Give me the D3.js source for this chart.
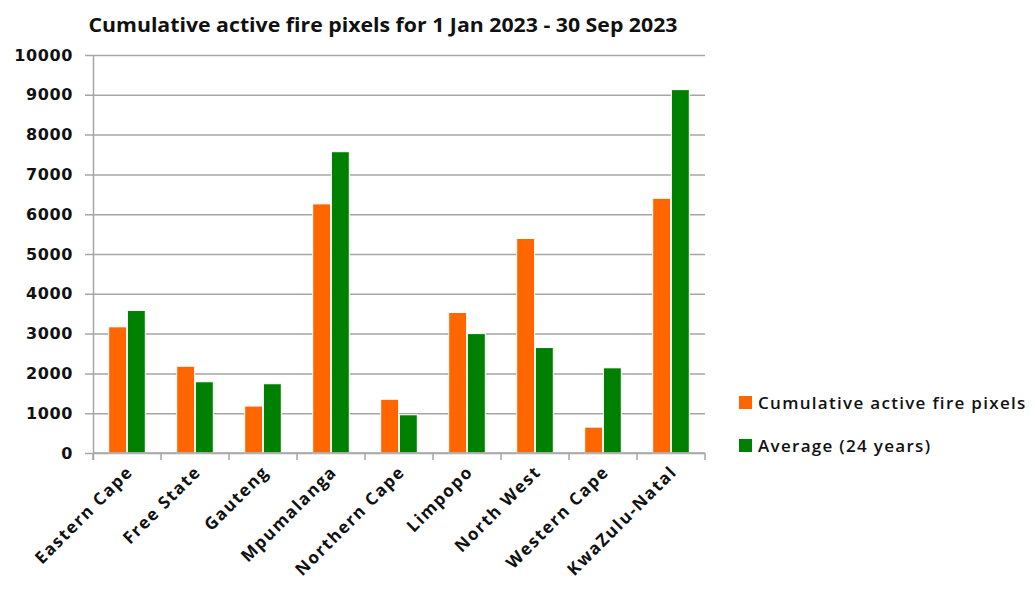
<!DOCTYPE html>
<html>
<head>
<meta charset="utf-8">
<script src="https://cdn.jsdelivr.net/npm/d3@7"></script>
<style>
  body { margin: 0; background: #fff; }
  svg { display: block; }
</style>
</head>
<body>
<svg id="chart"></svg>
<script>
const provinces = ["Eastern Cape", "Free State", "Gauteng", "Mpumalanga", "Northern Cape",
    "Limpopo", "North West", "Western Cape", "KwaZulu-Natal"];
const cumulative = [3170, 2180, 1180, 6260, 1350, 3530, 5390, 650, 6400];
const average24 = [3580, 1790, 1740, 7570, 960, 3000, 2650, 2140, 9130];
const seriesNames = ["Cumulative active fire pixels", "Average (24 years)"];
const seriesColors = ["#ff6600", "#008000"];
const yTicks = [0, 1000, 2000, 3000, 4000, 5000, 6000, 7000, 8000, 9000, 10000];

const width = 1034, height = 597;
const margin = { top: 55, right: 329, bottom: 144, left: 93 };
const innerW = width - margin.left - margin.right;
const innerH = height - margin.top - margin.bottom;

const rows = provinces.map((p, i) => ({ name: p, values: [cumulative[i], average24[i]] }));

const svg = d3.select("#chart").attr("width", width).attr("height", height);
const g = svg.append("g").attr("transform", `translate(${margin.left},${margin.top})`);

const x0 = d3.scaleBand().domain(provinces).range([0, innerW])
    .paddingInner(0.44).paddingOuter(0.22);
const x1 = d3.scaleBand().domain([0, 1]).range([0, x0.bandwidth()]).padding(0.04);
const y = d3.scaleLinear().domain([0, 10000]).range([innerH, 0]);

// gridlines with short ticks on the left
const yAxis = d3.axisLeft(y).tickValues(yTicks).tickFormat(d3.format("d"))
    .tickSize(-innerW - 8).tickSizeOuter(0).tickPadding(20);
const yg = g.append("g").call(yAxis);
yg.selectAll(".tick line").attr("x1", -8).attr("x2", innerW)
    .attr("stroke", "#a6a6a6").attr("stroke-width", 1.5);
yg.select(".domain").attr("d", `M0.5,0V${innerH + 7}`).attr("stroke", "#a6a6a6").attr("stroke-width", 1.5);
yg.selectAll(".tick text")
    .style("font-family", "DejaVu Sans").style("font-weight", "bold")
    .style("font-size", "16px").style("letter-spacing", "0.6px").attr("fill", "#111");

// bars
const groups = g.selectAll(".grp").data(rows).join("g")
    .attr("transform", d => `translate(${x0(d.name)},0)`);
groups.selectAll("rect").data(d => d.values.map((v, k) => ({ k, v }))).join("rect")
    .attr("x", d => x1(d.k))
    .attr("width", x1.bandwidth())
    .attr("y", d => y(d.v))
    .attr("height", d => innerH - y(d.v))
    .attr("fill", d => seriesColors[d.k])
    .attr("stroke", "#ffffff").attr("stroke-width", 1);

// x axis with boundary ticks
const xb = g.append("g").attr("transform", `translate(0,${innerH})`);
xb.append("line").attr("x1", 0).attr("x2", innerW).attr("stroke", "#a6a6a6").attr("stroke-width", 1.5);
xb.selectAll(".bt").data(d3.range(provinces.length + 1)).join("line")
    .attr("x1", i => i * x0.step()).attr("x2", i => i * x0.step())
    .attr("y1", 0).attr("y2", 7).attr("stroke", "#a6a6a6").attr("stroke-width", 1.5);
xb.selectAll(".lbl").data(provinces).join("text")
    .attr("transform", d => `translate(${x0(d) + x0.bandwidth() / 2 + 7},${20}) rotate(-45)`)
    .attr("text-anchor", "end")
    .style("font-family", "Open Sans").style("font-weight", "bold").style("font-size", "17px")
    .style("letter-spacing", "1.6px")
    .attr("fill", "#111")
    .text(d => d);

// title
svg.append("text")
    .attr("x", 383).attr("y", 32)
    .attr("text-anchor", "middle")
    .attr("textLength", 589).attr("lengthAdjust", "spacingAndGlyphs")
    .style("font-family", "Open Sans").style("font-weight", "bold").style("font-size", "19px")
    .attr("fill", "#111")
    .text("Cumulative active fire pixels for 1 Jan 2023  - 30 Sep 2023");

// legend
const lg = svg.append("g").attr("transform", "translate(739,396)");
const li = lg.selectAll("g").data(seriesNames).join("g")
    .attr("transform", (d, i) => `translate(0,${i * 43})`);
li.append("rect").attr("width", 13).attr("height", 13).attr("fill", (d, i) => seriesColors[i]);
li.append("text").attr("x", 19).attr("y", 13)
    .style("font-family", "Open Sans").style("font-size", "17px").style("font-weight", "600")
    .style("letter-spacing", "1.3px")
    .attr("fill", "#111")
    .text(d => d);
</script>
</body>
</html>
